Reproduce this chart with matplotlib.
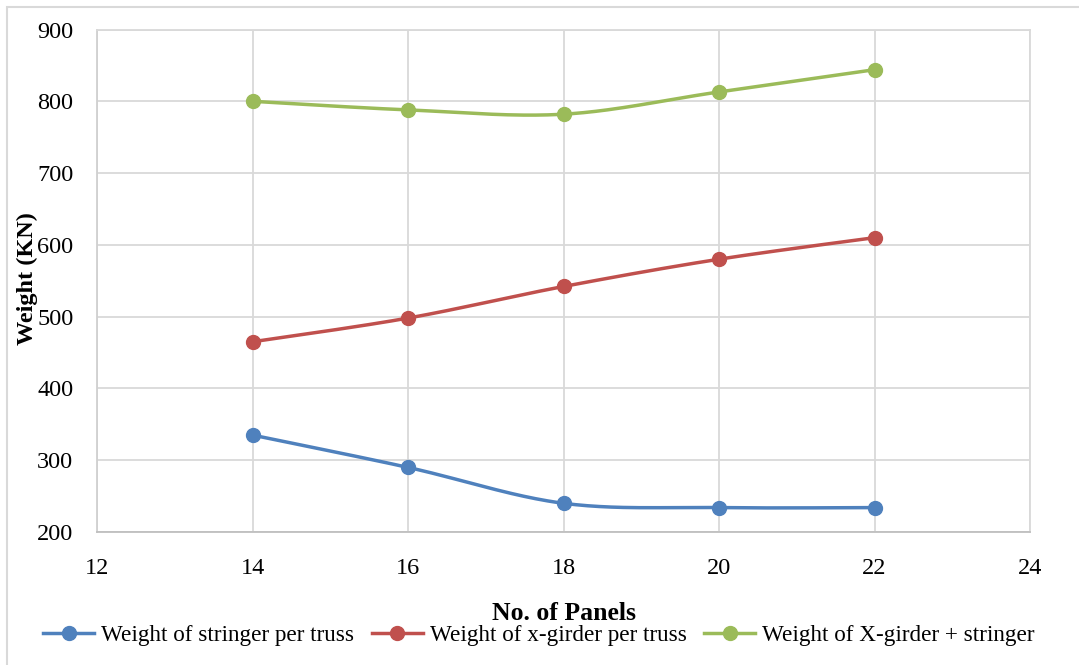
import numpy as np
import matplotlib
matplotlib.use("Agg")
import matplotlib.pyplot as plt
from matplotlib.patches import Rectangle
from matplotlib.lines import Line2D

panels = [14, 16, 18, 20, 22]
stringer = [335, 290, 240, 234, 234]
xgirder = [465, 498, 542, 580, 610]
combined = [800, 788, 782, 813, 844]

series_labels = [
    "Weight of stringer per truss",
    "Weight of x-girder per truss",
    "Weight of X-girder + stringer",
]
colors = ["#4F81BD", "#C0504D", "#9BBB59"]

x_ticks = [12, 14, 16, 18, 20, 22, 24]
y_ticks = [200, 300, 400, 500, 600, 700, 800, 900]


def smooth(xs, ys, n=40):
    """Catmull-Rom style Bezier smoothing through every point."""
    pts = np.column_stack([xs, ys]).astype(float)
    m = len(pts)
    out = [pts[0]]
    t = np.linspace(0, 1, n)[1:, None]
    for i in range(m - 1):
        p0 = pts[i - 1] if i > 0 else pts[i]
        p1 = pts[i]
        p2 = pts[i + 1]
        p3 = pts[i + 2] if i + 2 < m else pts[i + 1]
        c1 = p1 + (p2 - p0) / 6.0
        c2 = p2 - (p3 - p1) / 6.0
        seg = ((1 - t) ** 3) * p1 + 3 * ((1 - t) ** 2) * t * c1 + 3 * (1 - t) * t ** 2 * c2 + t ** 3 * p2
        out.extend(seg)
    out = np.array(out)
    return out[:, 0], out[:, 1]


plt.rcParams["font.family"] = ["Liberation Serif", "DejaVu Serif"]

fig = plt.figure(figsize=(10.79, 6.65), dpi=100)
fig.patch.set_facecolor("white")
# outer chart-area frame (only top and left edges fall inside the canvas)
fig.patches.append(Rectangle((7 / 1079, -0.05), 1.1, 1 + 0.05 - 7 / 665,
                             transform=fig.transFigure, fill=False,
                             edgecolor="#D9D9D9", linewidth=1.5))

ax = fig.add_axes([97 / 1079, 1 - 532 / 665, (1030 - 97) / 1079, (532 - 29.5) / 665])

handles = []
for ys, c, lab in zip([stringer, xgirder, combined], colors, series_labels):
    sx, sy = smooth(panels, ys)
    ax.plot(sx, sy, color=c, linewidth=2.5, solid_capstyle="round", zorder=3)
    ax.plot(panels, ys, linestyle="none", marker="o", markersize=10,
            color=c, zorder=4)
    handles.append(Line2D([], [], color=c, linewidth=2.5, marker="o", markersize=10, label=lab))

ax.set_xlim(12, 24)
ax.set_ylim(200, 900)
ax.set_xticks(x_ticks)
ax.set_yticks(y_ticks)
ax.grid(True, color="#D9D9D9", linewidth=1.3)
ax.set_axisbelow(True)
for s in ax.spines.values():
    s.set_color("#D9D9D9")
    s.set_linewidth(1.3)
ax.spines["bottom"].set_color("#BFBFBF")
ax.spines["left"].set_color("#D0D0D0")
ax.tick_params(length=0, labelsize=17.5, colors="black")
ax.tick_params(axis="y", pad=17)
ax.tick_params(axis="x", pad=19)

fig.text(27 / 1079, 1 - 279 / 665, "Weight (KN)", rotation=90, ha="center", va="center",
         fontsize=17.5, fontweight="bold")
fig.text(564 / 1079, 1 - 613 / 665, "No. of Panels", ha="center", va="center",
         fontsize=18.5, fontweight="bold")

fig.legend(handles=handles, loc="center", bbox_to_anchor=(539 / 1079, 1 - 635 / 665),
           ncol=3, frameon=False, fontsize=16.7, handlelength=2.2, handletextpad=0.3,
           columnspacing=0.75, borderaxespad=0)

fig.savefig("out.png", dpi=100)
